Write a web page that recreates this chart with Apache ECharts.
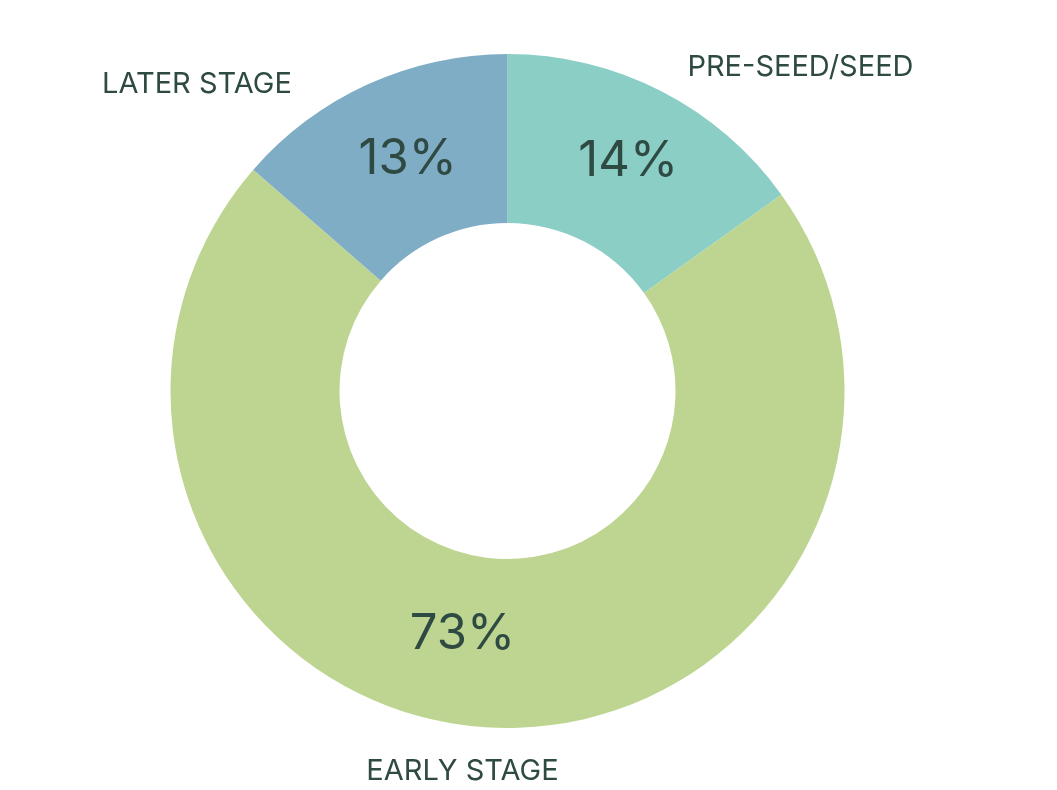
<!DOCTYPE html>
<html><head><meta charset="utf-8">
<script src="https://cdn.jsdelivr.net/npm/echarts@6/dist/echarts.min.js"></script>
<style>html,body{margin:0;padding:0;background:#fff}#c{width:1057px;height:790px}</style>
</head><body><div id="c"></div>
<script>
const categories = ['PRE-SEED/SEED', 'EARLY STAGE', 'LATER STAGE'];
const shares = [15.1, 71.3, 13.6];          // slice sizes as drawn
const pctLabels = ['14%', '73%', '13%'];     // printed percentages
const colors = ['#8bcec6', '#bdd591', '#80adc6'];
const innerOffsets = [[4, -2], [-33, -12], [6, 1]];
const outerOffsets = [[21, -24], [72, 44], [-71, 0]];
const textColor = '#2f4a42';

const chart = echarts.init(document.getElementById('c'), null, {renderer: 'canvas'});
const radius = [168, 337];
chart.setOption({
  animation: false,
  series: [
    {
      type: 'pie', center: [507.5, 391], radius: radius, startAngle: 90, clockwise: true,
      silent: true,
      itemStyle: {borderWidth: 0},
      label: {show: true, position: 'inside', fontFamily: 'Inter', fontSize: 49, fontWeight: 400, color: textColor,
        formatter: p => pctLabels[p.dataIndex]},
      labelLine: {show: false},
      data: categories.map((c, i) => ({name: c, value: shares[i], itemStyle: {color: colors[i]},
        label: {offset: innerOffsets[i]}}))
    },
    {
      type: 'pie', center: [507.5, 391], radius: radius, startAngle: 90, clockwise: true,
      silent: true, z: 1,
      itemStyle: {color: 'rgba(0,0,0,0)', borderWidth: 0},
      label: {show: true, position: 'outside', fontFamily: 'Inter', fontSize: 29, fontWeight: 400, color: textColor,
        formatter: p => p.name},
      labelLine: {show: false, length: 0, length2: 0},
      data: categories.map((c, i) => ({name: c, value: shares[i]})),
      labelLayout: p => ({dx: outerOffsets[p.dataIndex][0], dy: outerOffsets[p.dataIndex][1]})
    }
  ]
});
</script></body></html>
